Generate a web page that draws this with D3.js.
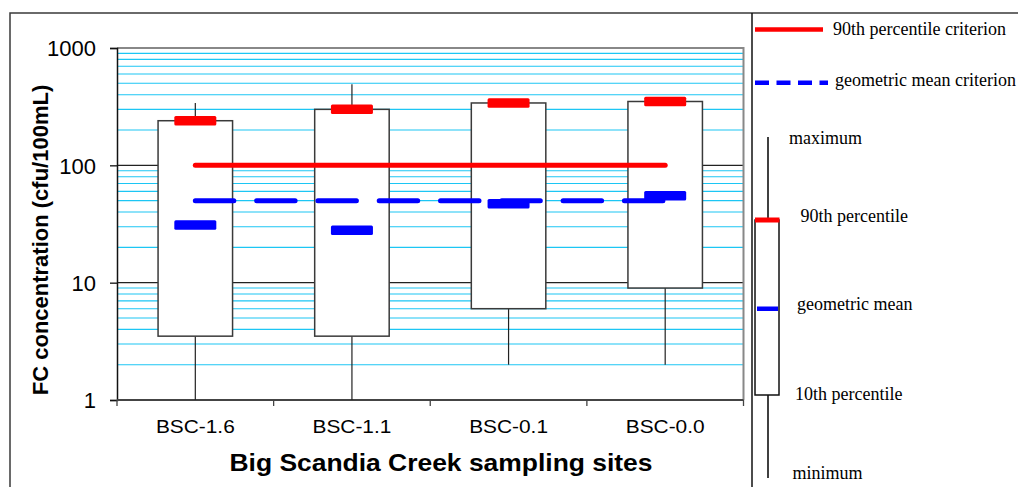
<!DOCTYPE html>
<html>
<head>
<meta charset="utf-8">
<script src="https://cdn.jsdelivr.net/npm/d3@7"></script>
<style>
  body { margin: 0; background: #fff; }
  svg { display: block; }
</style>
</head>
<body>
<script>
// Fecal coliform summary per sampling site (cfu/100mL)
const sites = ["BSC-1.6", "BSC-1.1", "BSC-0.1", "BSC-0.0"];
const minimum = [1, 1, 2, 2];
const p10 = [3.5, 3.5, 6, 9];
const geoMean = [31, 28, 47, 55];
const p90 = [240, 300, 340, 350];
const maximum = [340, 490, 340, 350];

const p90Criterion = 100;
const geoMeanCriterion = 50;

const yTicks = [1, 10, 100, 1000];
const legendLabels = ["maximum", "90th percentile", "geometric mean", "10th percentile", "minimum"];

const W = 1018, H = 487;
const plot = { left: 117, right: 743.5, top: 48, bottom: 400 };

const svg = d3.select("body").append("svg").attr("width", W).attr("height", H);

const y = d3.scaleLog().domain([1, 1000]).range([plot.bottom, plot.top]);
const x = d3.scaleBand().domain(sites).range([plot.left, plot.right]);
const cx = s => x(s) + x.bandwidth() / 2;

const rows = sites.map((s, i) => ({
  site: s, min: minimum[i], p10: p10[i], gm: geoMean[i], p90: p90[i], max: maximum[i]
}));

// outer frame and legend divider
svg.append("rect").attr("x", 10).attr("y", 13).attr("width", 1015).attr("height", 490)
  .attr("fill", "none").attr("stroke", "#3a3a3a").attr("stroke-width", 1.5);
svg.append("line").attr("x1", 752).attr("x2", 752).attr("y1", 13).attr("y2", H + 5)
  .attr("stroke", "#111").attr("stroke-width", 1.5);

// minor gridlines
const minor = y.ticks().filter(v => !yTicks.includes(v));
svg.append("g").selectAll("line").data(minor).join("line")
  .attr("x1", plot.left).attr("x2", plot.right)
  .attr("y1", d => y(d)).attr("y2", d => y(d))
  .attr("stroke", "#1cc6f4").attr("stroke-width", 1.1);

// major gridlines
svg.append("g").selectAll("line").data(yTicks.filter(v => v > 1 && v < 1000)).join("line")
  .attr("x1", plot.left).attr("x2", plot.right)
  .attr("y1", d => y(d)).attr("y2", d => y(d))
  .attr("stroke", "#222").attr("stroke-width", 1.2);

// plot border (top / right)
svg.append("path")
  .attr("d", `M${plot.left},${plot.top}H${plot.right}V${plot.bottom}`)
  .attr("fill", "none").attr("stroke", "#888").attr("stroke-width", 2);

// y axis
const yAxis = d3.axisLeft(y).tickValues(yTicks).tickSize(7).tickFormat(d3.format("d"));
const gy = svg.append("g").attr("transform", `translate(${plot.left},0)`).call(yAxis);
gy.select(".domain").attr("stroke", "#111").attr("stroke-width", 1.5);
gy.selectAll(".tick line").attr("stroke", "#111").attr("stroke-width", 1.3);
gy.selectAll(".tick text")
  .attr("x", -21).attr("dy", "0.35em")
  .attr("font-family", "Arial, 'Liberation Sans', sans-serif")
  .attr("font-size", 22).attr("fill", "#000");

// x axis: ticks on category boundaries
svg.append("line").attr("x1", plot.left).attr("x2", plot.right)
  .attr("y1", plot.bottom).attr("y2", plot.bottom)
  .attr("stroke", "#444").attr("stroke-width", 1.8);
const bounds = sites.map(s => x(s)).concat([plot.right]);
svg.append("g").selectAll("line").data(bounds).join("line")
  .attr("x1", d => d).attr("x2", d => d)
  .attr("y1", plot.bottom).attr("y2", plot.bottom + 6)
  .attr("stroke", "#444").attr("stroke-width", 1.3);

svg.append("g").selectAll("text").data(sites).join("text")
  .attr("transform", d => `translate(${cx(d)},432.5) scale(1.16,1)`)
  .attr("text-anchor", "middle")
  .attr("font-family", "Arial, 'Liberation Sans', sans-serif")
  .attr("font-size", 18).attr("fill", "#000")
  .text(d => d);

// axis titles
svg.append("text")
  .attr("transform", `translate(441,471) scale(1.15,1)`)
  .attr("text-anchor", "middle")
  .attr("font-family", "Arial, 'Liberation Sans', sans-serif")
  .attr("font-weight", "bold").attr("font-size", 23)
  .text("Big Scandia Creek sampling sites");

svg.append("text")
  .attr("transform", "translate(48,240) rotate(-90)")
  .attr("text-anchor", "middle")
  .attr("font-family", "Arial, 'Liberation Sans', sans-serif")
  .attr("font-weight", "bold").attr("font-size", 22)
  .text("FC concentration (cfu/100mL)");

// whiskers
const boxW = 74.5, markW = 42, markH = 9.5;
const g = svg.append("g");
g.selectAll("line.lo").data(rows).join("line").attr("class", "lo")
  .attr("x1", d => cx(d.site)).attr("x2", d => cx(d.site))
  .attr("y1", d => y(d.p10)).attr("y2", d => y(d.min))
  .attr("stroke", "#222").attr("stroke-width", 1.2);
g.selectAll("line.hi").data(rows).join("line").attr("class", "hi")
  .attr("x1", d => cx(d.site)).attr("x2", d => cx(d.site))
  .attr("y1", d => y(d.p90)).attr("y2", d => y(d.max))
  .attr("stroke", "#222").attr("stroke-width", 1.2);

// boxes: 10th to 90th percentile
g.selectAll("rect.box").data(rows).join("rect").attr("class", "box")
  .attr("x", d => cx(d.site) - boxW / 2).attr("width", boxW)
  .attr("y", d => y(d.p90)).attr("height", d => y(d.p10) - y(d.p90))
  .attr("fill", "#fff").attr("stroke", "#3a3a3a").attr("stroke-width", 1.5);

// criteria lines
const c0 = cx(sites[0]), c1 = cx(sites[sites.length - 1]);
svg.append("line").attr("x1", c0).attr("x2", c1)
  .attr("y1", y(p90Criterion)).attr("y2", y(p90Criterion))
  .attr("stroke", "#ff0000").attr("stroke-width", 5).attr("stroke-linecap", "round");
svg.append("line").attr("x1", c0).attr("x2", c1 + 2)
  .attr("y1", y(geoMeanCriterion)).attr("y2", y(geoMeanCriterion))
  .attr("stroke", "#0000ff").attr("stroke-width", 5).attr("stroke-linecap", "round")
  .attr("stroke-dasharray", "38.5,22.8");

// 90th percentile and geometric mean markers
g.selectAll("rect.p90").data(rows).join("rect").attr("class", "p90")
  .attr("x", d => cx(d.site) - markW / 2).attr("width", markW)
  .attr("y", d => y(d.p90) - markH / 2).attr("height", markH).attr("rx", 1.5)
  .attr("fill", "#ff0000");
svg.append("g").selectAll("rect").data(rows).join("rect")
  .attr("x", d => cx(d.site) - markW / 2).attr("width", markW)
  .attr("y", d => y(d.gm) - markH / 2).attr("height", markH).attr("rx", 1.5)
  .attr("fill", "#0000ff");

// legend
const lg = svg.append("g")
  .attr("font-family", "'Times New Roman', 'Liberation Serif', serif")
  .attr("font-size", 18).attr("fill", "#000");

lg.append("line").attr("x1", 755).attr("x2", 823).attr("y1", 29.5).attr("y2", 29.5)
  .attr("stroke", "#ff0000").attr("stroke-width", 4.5);
lg.append("text").attr("x", 833).attr("y", 35).text("90th percentile criterion");

lg.append("line").attr("x1", 755).attr("x2", 828).attr("y1", 82.7).attr("y2", 82.7)
  .attr("stroke", "#0000ff").attr("stroke-width", 4.5).attr("stroke-dasharray", "14,7.5");
lg.append("text").attr("x", 835).attr("y", 86).text("geometric mean criterion");

// sample box glyph
lg.append("line").attr("x1", 768).attr("x2", 768).attr("y1", 137).attr("y2", 220)
  .attr("stroke", "#000").attr("stroke-width", 1.5);
lg.append("line").attr("x1", 768).attr("x2", 768).attr("y1", 395).attr("y2", 478)
  .attr("stroke", "#000").attr("stroke-width", 1.5);
lg.append("rect").attr("x", 755).attr("y", 220).attr("width", 24).attr("height", 175)
  .attr("fill", "#fff").attr("stroke", "#111").attr("stroke-width", 1.5);
lg.append("rect").attr("x", 755).attr("y", 217.5).attr("width", 24.5).attr("height", 5)
  .attr("fill", "#ff0000");
lg.append("rect").attr("x", 757).attr("y", 306.5).attr("width", 21).attr("height", 4.5)
  .attr("fill", "#0000ff");

const legendPos = [[789, 143.5], [800.5, 222], [797, 310], [795, 399.5], [792.5, 478.5]];
lg.selectAll("text.lab").data(legendLabels).join("text").attr("class", "lab")
  .attr("x", (d, i) => legendPos[i][0]).attr("y", (d, i) => legendPos[i][1])
  .text(d => d);
</script>
</body>
</html>
